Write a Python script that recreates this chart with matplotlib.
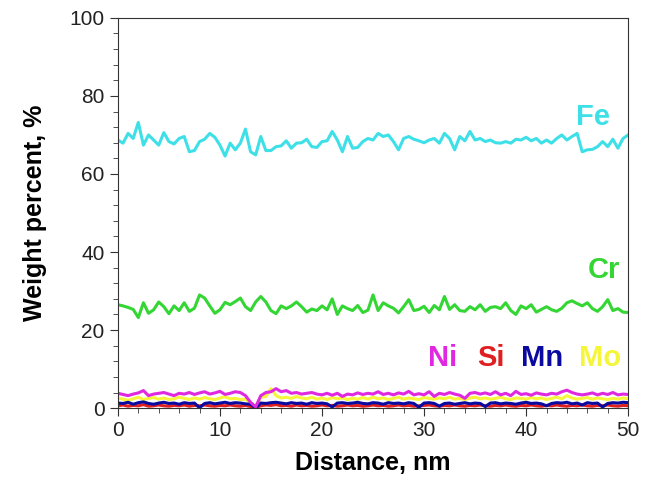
import numpy as np
import matplotlib.pyplot as plt
from matplotlib.ticker import MultipleLocator

plt.rcParams['font.family'] = ['Liberation Sans', 'DejaVu Sans']

# Distance, nm (0.5 nm step)
distance = np.arange(0, 50.5, 0.5)

fe = [68.7, 67.9, 70.4, 69.1, 73.2, 67.4, 70.0, 68.7, 67.4, 70.6, 68.3, 67.7, 69.1, 69.6,
      65.7, 66.0, 68.3, 68.9, 70.4, 69.4, 67.4, 64.6, 67.9, 66.2, 67.9, 71.5, 65.7, 64.9,
      69.6, 66.0, 66.0, 67.0, 67.2, 68.5, 66.6, 67.9, 68.0, 68.9, 67.0, 66.8, 68.3, 68.5,
      70.9, 68.7, 65.7, 69.6, 66.6, 66.8, 68.3, 69.1, 68.7, 70.4, 69.6, 70.0, 68.3, 66.2,
      69.1, 69.6, 68.9, 68.5, 68.0, 68.7, 69.1, 67.9, 70.4, 69.1, 66.2, 69.6, 68.5, 70.9,
      68.7, 69.1, 68.3, 68.7, 68.0, 67.9, 68.3, 67.9, 68.9, 68.7, 69.4, 68.5, 69.1, 67.9,
      68.7, 67.9, 69.1, 70.0, 68.7, 69.6, 70.4, 65.7, 66.2, 66.3, 67.0, 68.3, 67.0, 68.9,
      66.6, 69.1, 70.0]

cr = [26.5, 26.2, 25.8, 25.3, 23.2, 27.0, 24.3, 25.2, 27.2, 26.0, 24.2, 26.2, 25.0, 27.0,
      24.8, 25.6, 29.0, 28.2, 26.2, 24.3, 25.2, 27.1, 26.5, 27.3, 28.2, 26.0, 25.0, 27.2,
      28.6, 27.2, 25.0, 24.2, 26.2, 25.5, 26.2, 27.2, 26.0, 24.6, 25.4, 25.0, 26.2, 25.2,
      28.0, 24.0, 26.2, 25.5, 25.0, 26.3, 24.5, 25.1, 29.0, 25.0, 27.0, 26.2, 25.6, 24.4,
      26.0, 27.8, 25.0, 25.3, 26.1, 24.5, 26.3, 25.2, 28.6, 25.3, 26.5, 25.0, 24.8, 26.0,
      25.2, 26.5, 24.8, 25.8, 26.0, 25.5, 27.0, 25.0, 24.0, 26.2, 25.5, 26.5, 24.6, 25.3,
      26.0, 25.2, 24.8, 25.6, 27.0, 27.5, 26.8, 26.2, 27.0, 25.5, 24.8, 26.0, 27.8, 25.0,
      25.5, 24.6, 24.5]

ni = [3.8, 3.5, 3.2, 3.6, 3.9, 4.5, 3.2, 3.6, 3.8, 4.0, 3.6, 3.2, 3.8, 3.6, 4.0, 3.5,
      3.9, 4.2, 3.6, 3.9, 4.3, 3.5, 3.8, 4.2, 4.0, 3.2, 1.5, 0.3, 3.2, 4.0, 4.2, 5.0,
      4.2, 4.5, 3.8, 4.0, 3.6, 3.8, 4.0, 3.6, 3.4, 3.8, 3.3, 3.8, 3.0, 3.6, 3.4, 3.9,
      3.5, 3.8, 3.6, 4.2, 3.5, 3.8, 3.4, 3.9, 3.6, 4.3, 3.4, 3.7, 3.4, 4.2, 3.0, 3.8,
      3.5, 4.0, 3.6, 3.3, 2.5, 3.8, 4.0, 3.6, 3.9, 3.5, 4.2, 3.4, 3.8, 3.2, 4.3, 3.5,
      3.7, 3.3, 3.9, 3.6, 3.4, 3.8, 3.6, 4.2, 4.6, 4.0, 3.6, 3.4, 3.6, 3.9, 3.4, 3.8,
      3.5, 4.0, 3.4, 3.6, 3.5]

si = [0.6, 0.8, 0.5, 0.7, 0.6, 0.9, 0.5, 0.6, 0.8, 0.6, 0.5, 0.7, 0.6, 0.8, 0.5, 0.7,
      0.6, 0.8, 0.6, 0.5, 0.7, 0.6, 0.8, 0.6, 0.5, 0.7, 0.4, 0.2, 0.6, 0.8, 0.7, 0.9,
      0.6, 0.7, 0.5, 0.8, 0.6, 0.7, 0.5, 0.6, 0.8, 0.6, 0.7, 0.5, 0.6, 0.8, 0.6, 0.7,
      0.5, 0.6, 0.8, 0.6, 0.7, 0.5, 0.6, 0.8, 0.6, 0.7, 0.5, 0.6, 0.7, 0.8, 0.6, 0.5,
      0.7, 0.6, 0.8, 0.6, 0.5, 0.7, 0.6, 0.8, 0.6, 0.5, 0.7, 0.6, 0.8, 0.6, 0.5, 0.7,
      0.6, 0.8, 0.6, 0.5, 0.7, 0.6, 0.8, 0.6, 0.5, 0.7, 0.6, 0.8, 0.6, 0.5, 0.7, 0.6,
      0.8, 0.6, 0.5, 0.7, 0.6]

mn = [1.3, 1.2, 1.5, 1.0, 1.4, 1.6, 1.2, 1.0, 1.3, 1.5, 1.2, 1.3, 1.0, 1.4, 1.2, 1.3,
      0.1, 1.2, 1.4, 1.1, 1.3, 1.5, 1.2, 1.4, 1.3, 1.1, 1.0, 0.0, 1.3, 1.2, 1.4, 1.5,
      1.3, 1.1, 1.4, 1.2, 1.3, 1.0, 1.4, 1.2, 1.3, 1.1, 0.3, 1.3, 1.4, 1.2, 1.3, 1.5,
      1.2, 1.1, 1.4, 1.3, 1.0, 1.4, 1.2, 1.3, 1.1, 1.4, 1.2, 0.2, 1.3, 1.4, 1.2, 0.5,
      1.2, 1.3, 1.0, 1.2, 1.4, 1.1, 1.3, 1.2, 0.4, 1.3, 1.4, 1.1, 1.3, 1.2, 1.0, 1.3,
      1.5, 1.2, 1.3, 1.1, 0.6, 1.2, 1.4, 1.3, 1.5, 1.1, 1.3, 0.8, 1.4, 1.2, 1.3, 0.3,
      1.2, 1.4, 1.3, 1.5, 1.4]

mo = [2.6, 2.3, 2.0, 2.4, 2.8, 2.2, 2.5, 2.7, 2.3, 2.6, 2.2, 2.4, 2.8, 2.5, 2.2, 2.6,
      2.3, 2.7, 2.4, 2.2, 2.6, 2.9, 2.4, 2.5, 2.2, 2.3, 1.4, 0.4, 2.8, 3.0, 5.0, 3.2,
      2.6, 2.8, 2.5, 3.0, 2.6, 2.4, 2.8, 2.3, 2.6, 2.2, 2.7, 2.4, 2.6, 2.2, 2.5, 2.3,
      2.7, 2.3, 2.8, 2.4, 2.6, 2.2, 2.5, 2.8, 2.3, 2.6, 2.4, 2.2, 2.7, 2.5, 2.3, 2.6,
      2.4, 2.8, 2.3, 2.5, 2.2, 2.6, 2.8, 2.4, 2.6, 2.3, 2.5, 2.8, 2.4, 2.2, 2.6, 2.5,
      2.3, 2.7, 2.4, 2.6, 2.2, 2.5, 2.8, 2.4, 3.2, 2.6, 2.3, 2.5, 2.7, 2.3, 2.6, 2.4,
      2.2, 2.5, 2.3, 2.6, 2.4]

fig = plt.figure(figsize=(6.55, 4.83), dpi=100)
ax = fig.add_axes([0.18, 0.155, 0.779, 0.808])

lw = 2.2
ax.plot(distance, si, color='#e02020', lw=lw)
ax.plot(distance, mo, color='#f5f53a', lw=lw)
ax.plot(distance, mn, color='#0a0aa0', lw=lw)
ax.plot(distance, ni, color='#e028e0', lw=lw)
ax.plot(distance, cr, color='#33d633', lw=lw)
ax.plot(distance, fe, color='#3ee0e8', lw=lw)

lab = dict(fontsize=21, fontweight='bold', ha='center', va='center')
ax.text(46.6, 74.5, 'Fe', color='#3ee0e8', **lab)
ax.text(47.6, 35.5, 'Cr', color='#33d633', **lab)
ax.text(31.8, 12.8, 'Ni', color='#e028e0', **lab)
ax.text(36.6, 12.8, 'Si', color='#e02020', **lab)
ax.text(41.6, 12.8, 'Mn', color='#0a0aa0', **lab)
ax.text(47.2, 12.8, 'Mo', color='#f5f53a', **lab)

ax.set_xlim(0, 50)
ax.set_ylim(0, 100)
ax.xaxis.set_major_locator(MultipleLocator(10))
ax.xaxis.set_minor_locator(MultipleLocator(2))
ax.yaxis.set_major_locator(MultipleLocator(20))
ax.yaxis.set_minor_locator(MultipleLocator(4))
ax.tick_params(which='both', direction='out', labelsize=15, color='#333333',
               labelcolor='#222222')
ax.tick_params(which='major', length=6)
ax.tick_params(which='minor', length=3.5)
for s in ax.spines.values():
    s.set_color('#333333')

ax.set_xlabel('Distance, nm', fontsize=18, fontweight='bold', labelpad=8)
ax.set_ylabel('Weight percent, %', fontsize=18, fontweight='bold', labelpad=16)

fig.savefig('out.png', dpi=100)
